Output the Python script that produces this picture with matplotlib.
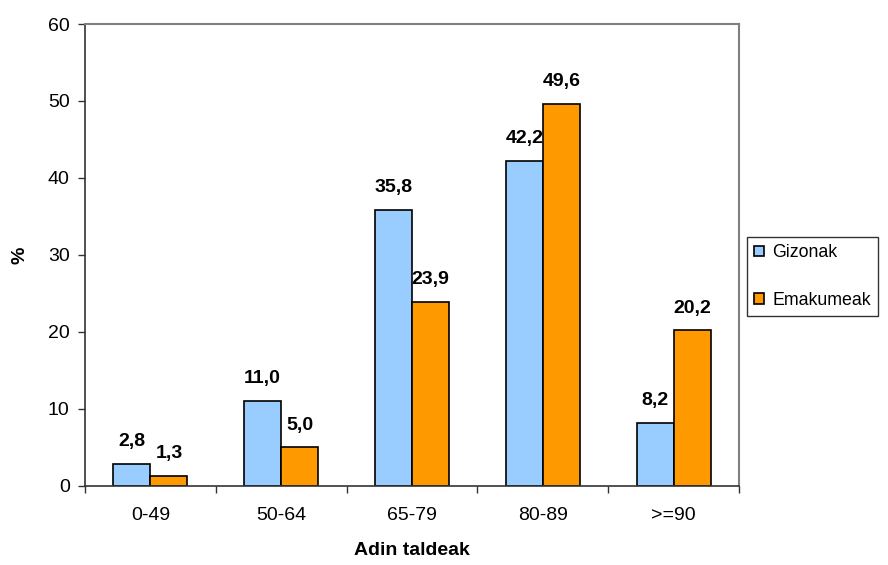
import numpy as np
import matplotlib.pyplot as plt

plt.rcParams['font.family'] = ['Liberation Sans', 'DejaVu Sans']

categories = ['0-49', '50-64', '65-79', '80-89', '>=90']
gizonak = [2.8, 11.0, 35.8, 42.2, 8.2]
emakumeak = [1.3, 5.0, 23.9, 49.6, 20.2]

fig = plt.figure(figsize=(8.88, 5.65), dpi=100)
ax = fig.add_axes([0.0957, 0.140, 0.7365, 0.8175])

x = np.arange(len(categories))
w = 0.283
b1 = ax.bar(x - w / 2, gizonak, w, color='#99CCFF', edgecolor='black', linewidth=1.2, label='Gizonak')
b2 = ax.bar(x + w / 2, emakumeak, w, color='#FF9900', edgecolor='black', linewidth=1.2, label='Emakumeak')

for bars, vals in [(b1, gizonak), (b2, emakumeak)]:
    for r, v in zip(bars, vals):
        ax.annotate(f'{v:.1f}'.replace('.', ','),
                    (r.get_x() + r.get_width() / 2, v),
                    xytext=(0, 10), textcoords='offset points',
                    ha='center', va='bottom', fontsize=14, fontweight='bold')

ax.set_xlim(-0.5, len(categories) - 0.5)
ax.set_ylim(0, 60)
ax.set_yticks(range(0, 61, 10))
ax.set_xticks(x)
ax.set_xticklabels(categories)
ax.set_xticks(np.arange(-0.5, len(categories), 1), minor=True)
ax.tick_params(axis='x', which='major', length=0, pad=15, labelsize=14)
ax.tick_params(axis='x', which='minor', length=5, width=1, color='#333333')
ax.tick_params(axis='y', length=5, width=1, color='#333333', labelsize=14, pad=6)

for s in ['top', 'right']:
    ax.spines[s].set_color('#808080')
    ax.spines[s].set_linewidth(1.5)
for s in ['left', 'bottom']:
    ax.spines[s].set_color('#333333')
    ax.spines[s].set_linewidth(1.2)

ax.set_xlabel('Adin taldeak', fontsize=14, fontweight='bold', labelpad=13)
ax.set_ylabel('%', fontsize=14, fontweight='bold', labelpad=14)

leg = fig.legend(loc='center left', bbox_to_anchor=(0.841, 0.5106), fontsize=12.8,
                 handlelength=0.55, handleheight=0.55, handletextpad=0.5,
                 fancybox=False, framealpha=1, edgecolor='#333333',
                 borderpad=0.4, labelspacing=1.7, borderaxespad=0)
leg.get_frame().set_linewidth(1)

plt.savefig('out.png', dpi=100)
